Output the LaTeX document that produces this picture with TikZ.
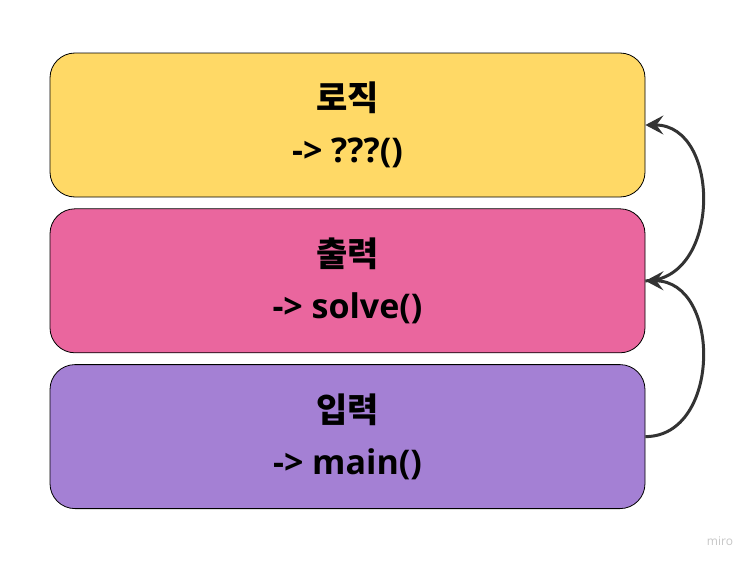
\documentclass[tikz,border=0pt]{standalone}
\usepackage{fontspec}
\setmainfont{Open Sans}
\newfontfamily\krfont{Noto Sans CJK KR}
\usetikzlibrary{positioning,arrows.meta}
\definecolor{logicyellow}{RGB}{255,217,102}
\definecolor{outpink}{RGB}{234,102,158}
\definecolor{inpurple}{RGB}{164,128,212}
\definecolor{linkgray}{RGB}{51,51,51}

\begin{document}
\begin{tikzpicture}[x=1pt,y=-1pt,
        layer/.style={draw=black,line width=0.8pt,rounded corners=25pt,minimum width=595pt,minimum height=144pt,
            align=center,font=\bfseries\fontsize{34}{52}\selectfont},
        link/.style={draw=linkgray,line width=3pt,-{Stealth[length=18pt,width=19pt,inset=7pt]},
            out=0,in=0,looseness=1.25}]
    \useasboundingbox (0,0) rectangle (750,562);
    \node[layer,fill=logicyellow] (logic) at (347.5,125) {{\krfont 로직}\\-> ???()};
    \node[layer,fill=outpink,below=11pt of logic] (output) {{\krfont 출력}\\-> solve()};
    \node[layer,fill=inpurple,below=11pt of output] (input) {{\krfont 입력}\\-> main()};
    \draw[link] (input.east) to (output.east);
    \draw[link] (output.east) to (logic.east);
    \node[text=gray!45,font=\fontsize{12}{14}\selectfont] (brand) at (720,541) {miro};
\end{tikzpicture}
\end{document}
